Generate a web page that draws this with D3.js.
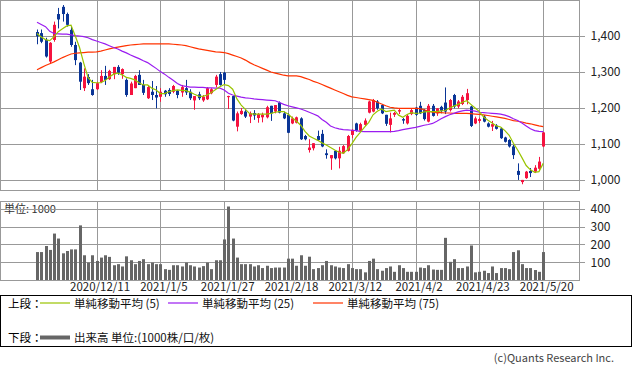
<!DOCTYPE html>
<html>
<head>
<meta charset="utf-8">
<script src="https://cdn.jsdelivr.net/npm/d3@7"></script>
<style>
body { margin: 0; background: #fff; }
svg { display: block; }
text { font-family: "Noto Sans CJK JP", "Noto Sans", sans-serif; }
</style>
</head>
<body>
<svg id="chart" width="633" height="371"></svg>
<script>
// trading days shown on the chart
const dates = [
  "2020/11/20","2020/11/24","2020/11/25","2020/11/26","2020/11/27","2020/11/30","2020/12/1","2020/12/2","2020/12/3","2020/12/4",
  "2020/12/7","2020/12/8","2020/12/9","2020/12/10","2020/12/11","2020/12/14","2020/12/15","2020/12/16","2020/12/17","2020/12/18",
  "2020/12/21","2020/12/22","2020/12/23","2020/12/24","2020/12/25","2020/12/28","2020/12/29","2020/12/30","2021/1/4","2021/1/5",
  "2021/1/6","2021/1/7","2021/1/8","2021/1/12","2021/1/13","2021/1/14","2021/1/15","2021/1/18","2021/1/19","2021/1/20",
  "2021/1/21","2021/1/22","2021/1/25","2021/1/26","2021/1/27","2021/1/28","2021/1/29","2021/2/1","2021/2/2","2021/2/3",
  "2021/2/4","2021/2/5","2021/2/8","2021/2/9","2021/2/10","2021/2/12","2021/2/15","2021/2/16","2021/2/17","2021/2/18",
  "2021/2/19","2021/2/22","2021/2/24","2021/2/25","2021/2/26","2021/3/1","2021/3/2","2021/3/3","2021/3/4","2021/3/5",
  "2021/3/8","2021/3/9","2021/3/10","2021/3/11","2021/3/12","2021/3/15","2021/3/16","2021/3/17","2021/3/18","2021/3/19",
  "2021/3/22","2021/3/23","2021/3/24","2021/3/25","2021/3/26","2021/3/29","2021/3/30","2021/3/31","2021/4/1","2021/4/2",
  "2021/4/5","2021/4/6","2021/4/7","2021/4/8","2021/4/9","2021/4/12","2021/4/13","2021/4/14","2021/4/15","2021/4/16",
  "2021/4/19","2021/4/20","2021/4/21","2021/4/22","2021/4/23","2021/4/26","2021/4/27","2021/4/28","2021/4/30","2021/5/6",
  "2021/5/7","2021/5/10","2021/5/11","2021/5/12","2021/5/13","2021/5/14","2021/5/17","2021/5/18","2021/5/19","2021/5/20"
];

const open = [1411,1408,1389,1329,1389,1461,1481,1461,1417,1375, 1326,1255,1286,1252,1252,1272,1289,1280,1294,1314,
  1294,1278,1236,1255,1292,1264,1227,1245,1236,1231, 1248,1250,1245,1248,1243,1255,1245,1221,1238,1221,
  1224,1241,1264,1294,1298,1230,1233,1148,1183,1190, 1176,1186,1172,1174,1174,1206,1190,1215,1185,1181,
  1157,1159,1171,1122,1083,1088,1122,1128,1074,1060, 1081,1060,1074,1081,1125,1157,1137,1153,1187,1190,
  1218,1208,1181,1153,1181,1190,1169,1157,1183,1201, 1206,1194,1162,1206,1185,1203,1215,1194,1236,1204,
  1211,1222,1204,1157,1164,1176,1157,1148,1151,1143, 1118,1111,1093,1025,994,1005,1025,1023,1031,1093];
const high = [1418,1418,1395,1383,1440,1478,1486,1465,1426,1384, 1328,1310,1294,1278,1273,1305,1317,1306,1314,1319,
  1310,1282,1273,1292,1305,1278,1262,1275,1261,1255, 1250,1255,1264,1250,1264,1278,1252,1233,1245,1236,
  1258,1255,1292,1300,1300,1234,1233,1190,1200,1194, 1190,1194,1186,1187,1206,1206,1208,1218,1190,1185,
  1176,1176,1174,1125,1113,1102,1137,1139,1085,1069, 1083,1092,1097,1125,1141,1159,1159,1171,1220,1225,
  1222,1211,1181,1187,1189,1197,1172,1183,1197,1203, 1217,1197,1211,1211,1199,1206,1257,1225,1239,1222,
  1236,1253,1206,1176,1173,1180,1160,1164,1155,1146, 1120,1113,1097,1046,1000,1025,1033,1041,1064,1133];
const low = [1377,1380,1340,1324,1384,1421,1440,1426,1370,1319, 1250,1247,1264,1234,1250,1269,1264,1278,1280,1292,
  1281,1231,1236,1255,1264,1236,1225,1222,1199,1217, 1231,1233,1241,1227,1231,1236,1222,1195,1222,1217,
  1222,1238,1257,1262,1264,1197,1163,1135,1181,1172, 1158,1167,1159,1160,1171,1164,1185,1185,1169,1130,
  1155,1157,1111,1110,1076,1082,1108,1091,1059,1028, 1057,1032,1072,1079,1116,1134,1134,1150,1185,1188,
  1195,1183,1150,1132,1175,1183,1156,1154,1180,1178, 1183,1165,1160,1176,1178,1185,1183,1190,1199,1199,
  1208,1210,1147,1155,1158,1160,1146,1136,1140,1114, 1104,1090,1058,1000,988,1003,1008,1019,1028,1091];
const close = [1399,1384,1343,1381,1431,1446,1461,1431,1375,1333, 1273,1287,1269,1236,1269,1289,1278,1303,1314,1298,
  1308,1236,1268,1289,1264,1242,1258,1236,1229,1245, 1238,1239,1261,1236,1258,1243,1227,1233,1227,1231,
  1255,1252,1287,1264,1278,1233,1165,1185,1192,1176, 1185,1179,1183,1181,1202,1185,1208,1187,1171,1131,
  1171,1174,1113,1113,1090,1102,1111,1093,1069,1069, 1060,1081,1094,1122,1139,1137,1155,1165,1218,1222,
  1199,1185,1156,1171,1186,1194,1165,1178,1194,1181, 1185,1169,1206,1178,1199,1192,1190,1222,1204,1218,
  1231,1241,1150,1171,1169,1162,1148,1155,1142,1116, 1106,1093,1069,1014,1000,1023,1019,1034,1051,1132];

// volume (1000 shares)
const volume = [157,157,191,169,261,233,150,163,172,172, 307,139,98,139,107,126,139,130,83,89,
  76,133,111,89,107,117,89,98,89,89, 61,57,83,83,76,98,83,76,70,78,
  98,61,111,111,228,413,233,126,89,89, 89,76,83,67,80,67,70,70,70,120,
  120,80,139,80,131,61,67,83,107,83, 76,70,67,89,67,61,61,43,107,120,
  61,52,67,76,46,83,67,46,46,46, 70,67,83,59,57,57,237,102,117,67,
  67,76,194,43,46,52,39,76,39,67, 67,61,157,167,89,67,67,56,46,157];

const ma5 = [1407,1397,1390,1387,1398,1412,1420,1428,1430,1400, 1368,1324,1285,1271,1270,1270,1276,1286,1294,1297,
  1292,1285,1282,1278,1270,1264,1264,1255,1250,1240, 1240,1245,1248,1250,1249,1248,1244,1238,1233,1232,
  1236,1243,1251,1259,1265,1262,1252,1225,1208,1196, 1184,1183,1183,1183,1183,1185,1188,1190,1190,1183,
  1173,1163,1152,1135,1122,1116,1110,1103,1097,1090, 1083,1077,1074,1084,1100,1118,1132,1147,1160,1181,
  1191,1197,1190,1192,1194,1180,1174,1182,1187,1185, 1186,1189,1190,1190,1190,1192,1193,1200,1205,1210,
  1216,1220,1210,1200,1190,1175,1166,1158,1150,1147, 1137,1124,1102,1083,1062,1040,1028,1021,1023,1046];
const ma25 = [1438,1432,1426,1413,1407,1406,1405,1405,1403,1401, 1400,1398,1395,1390,1386,1382,1378,1373,1368,1364,
  1358,1353,1347,1342,1337,1331,1326,1318,1310,1301, 1294,1285,1277,1268,1262,1260,1258,1258,1257,1257,
  1256,1256,1255,1255,1250,1241,1236,1233,1230,1228, 1227,1225,1224,1223,1222,1221,1220,1215,1210,1206,
  1203,1200,1197,1193,1188,1183,1178,1168,1160,1150, 1145,1142,1140,1139,1138,1137,1135,1134,1134,1134,
  1134,1134,1134,1134,1135,1137,1140,1142,1144,1146, 1149,1152,1154,1157,1163,1170,1176,1181,1185,1189,
  1192,1194,1193,1191,1188,1187,1186,1185,1184,1183, 1180,1176,1170,1165,1158,1150,1142,1137,1135,1134];
const ma75 = [1306,1312,1318,1323,1328,1334,1340,1345,1350,1352, 1353,1354,1355,1355,1356,1358,1361,1364,1367,1369,
  1371,1373,1375,1376,1377,1378,1378,1378,1378,1378, 1378,1378,1377,1376,1375,1373,1370,1367,1364,1362,
  1360,1358,1356,1355,1354,1351,1347,1343,1339,1333, 1326,1320,1315,1310,1305,1300,1297,1294,1291,1289,
  1289,1289,1287,1283,1279,1274,1270,1265,1260,1255, 1250,1245,1240,1235,1231,1229,1227,1225,1223,1221,
  1216,1211,1206,1202,1200,1199,1199,1199,1199,1199, 1198,1195,1191,1188,1187,1187,1186,1186,1185,1185,
  1185,1185,1184,1183,1182,1181,1179,1177,1175,1173, 1171,1168,1165,1163,1161,1158,1156,1153,1150,1148];

const tickDates = ["2020/12/11","2021/1/5","2021/1/27","2021/2/18","2021/3/12","2021/4/2","2021/4/23","2021/5/20"];
const priceTicks = [1000, 1100, 1200, 1300, 1400];
const volTicks = [100, 200, 300, 400];

const upColor = "#f5133f", downColor = "#0a3596", gridColor = "#999";

let svg = d3.select("#chart");
let panelW = 579;

let x = d3.scalePoint().domain(dates).range([37, 543.2]);
let y = d3.scaleLinear().domain([972, 1500]).range([190, 0]);
let yv = d3.scaleLinear().domain([0, 444]).range([280, 201]);

const px = d => Math.round(x(d)) + 0.5;

// volume unit label (under grid, like the original)
svg.append("text")
  .attr("x", 4).attr("y", 213)
  .attr("font-size", 11).attr("fill", "#333")
  .text("単位: 1000");

// grid lines
let grid = svg.append("g").attr("stroke", gridColor).attr("stroke-width", 1);
grid.selectAll(".hp").data(priceTicks).enter().append("line")
  .attr("x1", 0).attr("x2", panelW + 6)
  .attr("y1", d => Math.round(y(d)) + 0.5).attr("y2", d => Math.round(y(d)) + 0.5);
grid.selectAll(".hv").data(volTicks).enter().append("line")
  .attr("x1", 0).attr("x2", panelW + 6)
  .attr("y1", d => Math.round(yv(d)) + 0.5).attr("y2", d => Math.round(yv(d)) + 0.5);
grid.selectAll(".vp").data(tickDates).enter().append("line")
  .attr("x1", px).attr("x2", px).attr("y1", 0).attr("y2", 190);
grid.selectAll(".vv").data(tickDates).enter().append("line")
  .attr("x1", px).attr("x2", px).attr("y1", 201).attr("y2", 280);

// panel frames
svg.append("rect").attr("x", 0.5).attr("y", 0.5).attr("width", panelW).attr("height", 190)
  .attr("fill", "none").attr("stroke", gridColor);
svg.append("rect").attr("x", 0.5).attr("y", 201.5).attr("width", panelW).attr("height", 79)
  .attr("fill", "none").attr("stroke", gridColor);

// right axes (labels only, lines already drawn)
let ya = svg.append("g").attr("transform", "translate(" + (panelW + 0.5) + ",0)")
  .call(d3.axisRight(y).tickValues(priceTicks).tickSize(6).tickPadding(5).tickFormat(d3.format(",")));
let yva = svg.append("g").attr("transform", "translate(" + (panelW + 0.5) + ",0)")
  .call(d3.axisRight(yv).tickValues(volTicks).tickSize(6).tickPadding(5));
[ya, yva].forEach(a => {
  a.select(".domain").remove();
  a.selectAll("line").remove();
  a.selectAll("text").attr("font-size", 12).attr("fill", "#222")
    .attr("font-family", "\"Noto Sans CJK JP\", sans-serif");
});

// date labels
let xa = svg.append("g").attr("transform", "translate(3,280)")
  .call(d3.axisBottom(x).tickValues(tickDates).tickSize(0).tickPadding(3));
xa.select(".domain").remove();
xa.selectAll("text").attr("font-size", 11.5).attr("fill", "#222")
  .attr("font-family", "\"Noto Sans CJK JP\", sans-serif");

// volume bars
svg.append("g").selectAll("rect").data(volume).enter().append("rect")
  .attr("x", (d, i) => Math.round(x(dates[i])) - 1)
  .attr("width", 3)
  .attr("y", d => yv(d))
  .attr("height", d => yv(0) - yv(d))
  .attr("fill", "#666");

// candles
let candles = svg.append("g").selectAll("g").data(dates).enter().append("g")
  .attr("fill", (d, i) => close[i] >= open[i] ? upColor : downColor)
  .attr("stroke", (d, i) => close[i] >= open[i] ? upColor : downColor);
candles.append("line")
  .attr("x1", d => px(d)).attr("x2", d => px(d))
  .attr("y1", (d, i) => y(high[i])).attr("y2", (d, i) => y(low[i]));
candles.append("rect")
  .attr("stroke", "none")
  .attr("x", d => Math.round(x(d)) - 1)
  .attr("width", 3)
  .attr("y", (d, i) => y(Math.max(open[i], close[i])))
  .attr("height", (d, i) => Math.max(1, Math.abs(y(open[i]) - y(close[i]))));

// moving averages
let line = d3.line().x((d, i) => x(dates[i])).y(d => y(d));
[[ma75, "#ff3300"], [ma25, "#9a1cf0"], [ma5, "#99c400"]].forEach(([s, c]) => {
  svg.append("path").datum(s).attr("d", line)
    .attr("fill", "none").attr("stroke", c).attr("stroke-width", 1.2);
});

// legend
let lg = svg.append("g");
lg.append("rect").attr("x", 0.5).attr("y", 295.5).attr("width", 631).attr("height", 51)
  .attr("fill", "none").attr("stroke", "#000");
const legendItems = [
  {label: "単純移動平均 (5)", color: "#99c400", x: 40, y: 303, w: 1.2},
  {label: "単純移動平均 (25)", color: "#9a1cf0", x: 168, y: 303, w: 1.2},
  {label: "単純移動平均 (75)", color: "#ff3300", x: 313, y: 303, w: 1.2},
  {label: "出来高 単位:(1000株/口/枚)", color: "#666", x: 40, y: 337.5, w: 4}
];
lg.append("text").attr("x", 8).attr("y", 307.5).attr("font-size", 11.5).text("上段：");
lg.append("text").attr("x", 8).attr("y", 342).attr("font-size", 11.5).text("下段：");
legendItems.forEach(it => {
  lg.append("line").attr("x1", it.x).attr("x2", it.x + 30).attr("y1", it.y).attr("y2", it.y)
    .attr("stroke", it.color).attr("stroke-width", it.w);
  lg.append("text").attr("x", it.x + 34).attr("y", it.y + 4.5).attr("font-size", 11.5)
    .attr("fill", "#111").text(it.label);
});

svg.append("text").attr("x", 614).attr("y", 362).attr("text-anchor", "end")
  .attr("font-size", 11).attr("fill", "#444").text("(c)Quants Research Inc.");
</script>
</body>
</html>
